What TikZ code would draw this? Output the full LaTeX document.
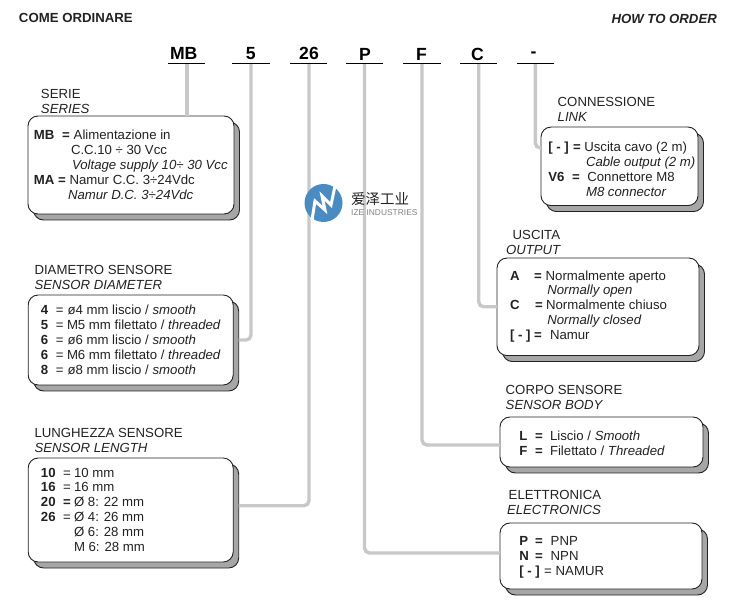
\documentclass[tikz,border=0pt]{standalone}
\usepackage{fontspec}
\usepackage{tikz}
\usetikzlibrary{shadows}
\setmainfont{Liberation Sans}
\newfontfamily\cjkfont{Noto Sans CJK SC}
\definecolor{inkcol}{HTML}{222222}
\definecolor{conncol}{HTML}{C8C8C8}
\definecolor{shadecol}{HTML}{A6A6A6}
\definecolor{logocol}{HTML}{4A8BC2}
\tikzset{
    txt/.style={anchor=base west, inner sep=0pt, outer sep=0pt, yshift=-0.7pt, text=inkcol, font=\fontsize{13.2}{15}\selectfont},
    txtb/.style={txt, font=\fontsize{13.2}{15}\selectfont\bfseries},
    txti/.style={txt, font=\fontsize{13.2}{15}\selectfont\itshape},
    code/.style={anchor=base, inner sep=0pt, text=black, font=\fontsize{17.6}{20}\selectfont\bfseries},
    slot/.style={draw=black, line width=0.8pt},
    conn/.style={draw=conncol, line width=3.4pt, rounded corners=5pt},
    optbox/.style={rectangle, rounded corners=10pt, draw=inkcol, fill=white, line width=0.9pt,
        inner sep=0pt, outer sep=0pt,
        copy shadow={shadow xshift=5.5pt, shadow yshift=-6pt, draw=inkcol, fill=shadecol}},
}
\begin{document}
\begin{tikzpicture}[x=1pt, y=-1pt]
    \useasboundingbox (0,0) rectangle (745,612);

    % Intestazione
    \node[txtb] (hIt) at (19,21.7) {COME ORDINARE};
    \node[txtb, font=\fontsize{13.2}{15}\selectfont\bfseries\itshape] (hEn) at (611.5,22.7) {HOW TO ORDER};

    % Codice
    \node[code] (cMB) at (183.7,60) {MB}; \node[code] (cDia) at (250.7,59.5) {5}; \node[code] (cLen) at (309,59.5) {26};
    \node[code] (cEl) at (365,61) {P}; \node[code] (cBody) at (421.5,61) {F}; \node[code] (cOut) at (477.5,61) {C};
    \node[code] (cLink) at (533.5,57.5) {-};
    \coordinate (sMB) at (187,63.5); \coordinate (sDia) at (251,63.5); \coordinate (sLen) at (309,63.5);
    \coordinate (sEl) at (364.5,63.5); \coordinate (sBody) at (422,63.5); \coordinate (sOut) at (478.7,63.5);
    \coordinate (sLink) at (535.3,63.5);

    % Riquadri
    \node[optbox, minimum width=206pt, minimum height=98pt] (bSerie) at (131,165) {};
    \node[optbox, minimum width=205pt, minimum height=90pt] (bDia) at (130.7,340) {};
    \node[optbox, minimum width=205pt, minimum height=104pt] (bLen) at (130.7,510) {};
    \node[optbox, minimum width=157pt, minimum height=78.5pt] (bLink) at (619.5,166.3) {};
    \node[optbox, minimum width=202pt, minimum height=97.5pt] (bOut) at (598,306.8) {};
    \node[optbox, minimum width=203pt, minimum height=50pt] (bBody) at (601.5,442) {};
    \node[optbox, minimum width=202pt, minimum height=66pt] (bEl) at (601,556) {};

    % Collegamenti
    \draw[conn] (sMB) -- (sMB |- bSerie.north);
    \draw[conn] (sDia) |- ([xshift=5.5pt]bDia.east);
    \draw[conn] (sLen) |- ([xshift=5.5pt, yshift=4.3pt]bLen.east);
    \draw[conn] (sEl) |- ([yshift=3pt]bEl.west);
    \draw[conn] (sBody) |- ([yshift=-3pt]bBody.west);
    \draw[conn] (sOut) |- (bOut.west);
    \draw[conn] (sLink) |- ([yshift=18.3pt]bLink.west);
    \foreach \s/\l/\r in {sMB/168/205, sDia/232/270, sLen/290/327, sEl/346/383, sBody/403/441, sOut/460/497, sLink/517/554}
        \draw[slot] (\l,63.5) -- (\r,63.5);

    % Serie
    \node[txt] (tS1) at (41,97.7) {SERIE}; \node[txti] (tS2) at (41,112.7) {SERIES};
    \node[txtb] (s1a) at (34,139.3) {MB}; \node[txtb] (s1b) at (62,139.3) {=}; \node[txt] (s1c) at (73.7,139.3) {Alimentazione in};
    \node[txt] (s2) at (71,154) {C.C.10 ÷ 30 Vcc};
    \node[txti] (s3) at (72,169) {Voltage supply 10÷ 30 Vcc};
    \node[txtb] (s4a) at (34,184) {MA =}; \node[txt] (s4b) at (69.5,184) {Namur C.C. 3÷24Vdc};
    \node[txti] (s5) at (68,199) {Namur D.C. 3÷24Vdc};

    % Diametro
    \node[txt] (tD1) at (34.5,274) {DIAMETRO SENSORE}; \node[txti] (tD2) at (34.5,289) {SENSOR DIAMETER};
    \node[txtb] (d1a) at (41,314) {4}; \node[txt] (d1b) at (56,314) {=}; \node[txt] (d1c) at (67.5,314) {ø4 mm liscio / \textit{smooth}};
    \node[txtb] (d2a) at (41,329) {5}; \node[txt] (d2b) at (56,329) {=}; \node[txt] (d2c) at (67,329) {M5 mm filettato / \textit{threaded}};
    \node[txtb] (d3a) at (41,344) {6}; \node[txt] (d3b) at (56,344) {=}; \node[txt] (d3c) at (67.5,344) {ø6 mm liscio / \textit{smooth}};
    \node[txtb] (d4a) at (41,359) {6}; \node[txt] (d4b) at (56,359) {=}; \node[txt] (d4c) at (67,359) {M6 mm filettato / \textit{threaded}};
    \node[txtb] (d5a) at (41,374) {8}; \node[txt] (d5b) at (56,374) {=}; \node[txt] (d5c) at (67.5,374) {ø8 mm liscio / \textit{smooth}};

    % Lunghezza
    \node[txt] (tL1) at (34.5,437) {LUNGHEZZA SENSORE}; \node[txti] (tL2) at (34.5,452) {SENSOR LENGTH};
    \node[txtb] (l1a) at (41,476.7) {10}; \node[txt] (l1b) at (63,476.7) {=}; \node[txt] (l1c) at (74,476.7) {10 mm};
    \node[txtb] (l2a) at (41,490.7) {16}; \node[txt] (l2b) at (63,490.7) {=}; \node[txt] (l2c) at (74,490.7) {16 mm};
    \node[txtb] (l3a) at (41,505.7) {20}; \node[txtb] (l3b) at (63,505.7) {=}; \node[txt] (l3c) at (74,505.7) {Ø 8: 22 mm};
    \node[txtb] (l4a) at (41,520.7) {26}; \node[txt] (l4b) at (63,520.7) {=}; \node[txt] (l4c) at (74,520.7) {Ø 4: 26 mm};
    \node[txt] (l5) at (74,535.7) {Ø 6: 28 mm};
    \node[txt] (l6) at (74,550.7) {M 6: 28 mm};

    % Connessione
    \node[txt] (tC1) at (557.7,106) {CONNESSIONE}; \node[txti] (tC2) at (557.7,121) {LINK};
    \node[txtb] (c1a) at (548.3,151) {[ - ]}; \node[txtb] (c1b) at (573,151) {=}; \node[txt] (c1c) at (584.3,151) {Uscita cavo (2 m)};
    \node[txti] (c2) at (586,166) {Cable output (2 m)};
    \node[txtb] (c3a) at (548.3,181) {V6}; \node[txtb] (c3b) at (572,181) {=}; \node[txt] (c3c) at (587.3,181) {Connettore M8};
    \node[txti] (c4) at (586,196) {M8 connector};

    % Uscita
    \node[txt] (tU1) at (512.7,239) {USCITA}; \node[txti] (tU2) at (506,254) {OUTPUT};
    \node[txtb] (u1a) at (510,280) {A}; \node[txtb] (u1b) at (534,280) {=}; \node[txt] (u1c) at (545.7,280) {Normalmente aperto};
    \node[txti] (u2) at (547.3,294) {Normally open};
    \node[txtb] (u3a) at (510,309) {C}; \node[txtb] (u3b) at (535,309) {=}; \node[txt] (u3c) at (546,309) {Normalmente chiuso};
    \node[txti] (u4) at (547.3,324) {Normally closed};
    \node[txtb] (u5a) at (510,339) {[ - ]}; \node[txtb] (u5b) at (534,339) {=}; \node[txt] (u5c) at (550,339) {Namur};

    % Corpo
    \node[txt] (tB1) at (505.7,394) {CORPO SENSORE}; \node[txti] (tB2) at (505.7,409) {SENSOR BODY};
    \node[txtb] (b1a) at (519.3,440) {L}; \node[txtb] (b1b) at (535,440) {=}; \node[txt] (b1c) at (550,440) {Liscio / \textit{Smooth}};
    \node[txtb] (b2a) at (519.3,455) {F}; \node[txtb] (b2b) at (535,455) {=}; \node[txt] (b2c) at (550,455) {Filettato / \textit{Threaded}};

    % Elettronica
    \node[txt] (tE1) at (508.7,499) {ELETTRONICA}; \node[txti] (tE2) at (507,514) {ELECTRONICS};
    \node[txtb] (e1a) at (519.3,545) {P}; \node[txtb] (e1b) at (535,545) {=}; \node[txt] (e1c) at (550.7,545) {PNP};
    \node[txtb] (e2a) at (519.3,560) {N}; \node[txtb] (e2b) at (535,560) {=}; \node[txt] (e2c) at (550.7,560) {NPN};
    \node[txtb] (e3a) at (519.3,575) {[ - ]}; \node[txt] (e3b) at (544,575) {=}; \node[txt] (e3c) at (555.7,575) {NAMUR};

    % Marchio
    \fill[logocol] (323.5,203) circle (19);
    \draw[white, line width=3pt, line join=miter] (335,186) -- (331,205) -- (322,196) -- (325,210) -- (315,201) -- (312,220);
    \node[anchor=base west, inner sep=0pt, text=inkcol, font=\fontsize{14.5}{16}\selectfont\cjkfont] (mCn) at (351,204.5) {爱泽工业};
    \node[anchor=base west, inner sep=0pt, text=black!50, font=\fontsize{8.4}{10}\selectfont] (mEn) at (351,215.5) {IZE INDUSTRIES};
\end{tikzpicture}
\end{document}
